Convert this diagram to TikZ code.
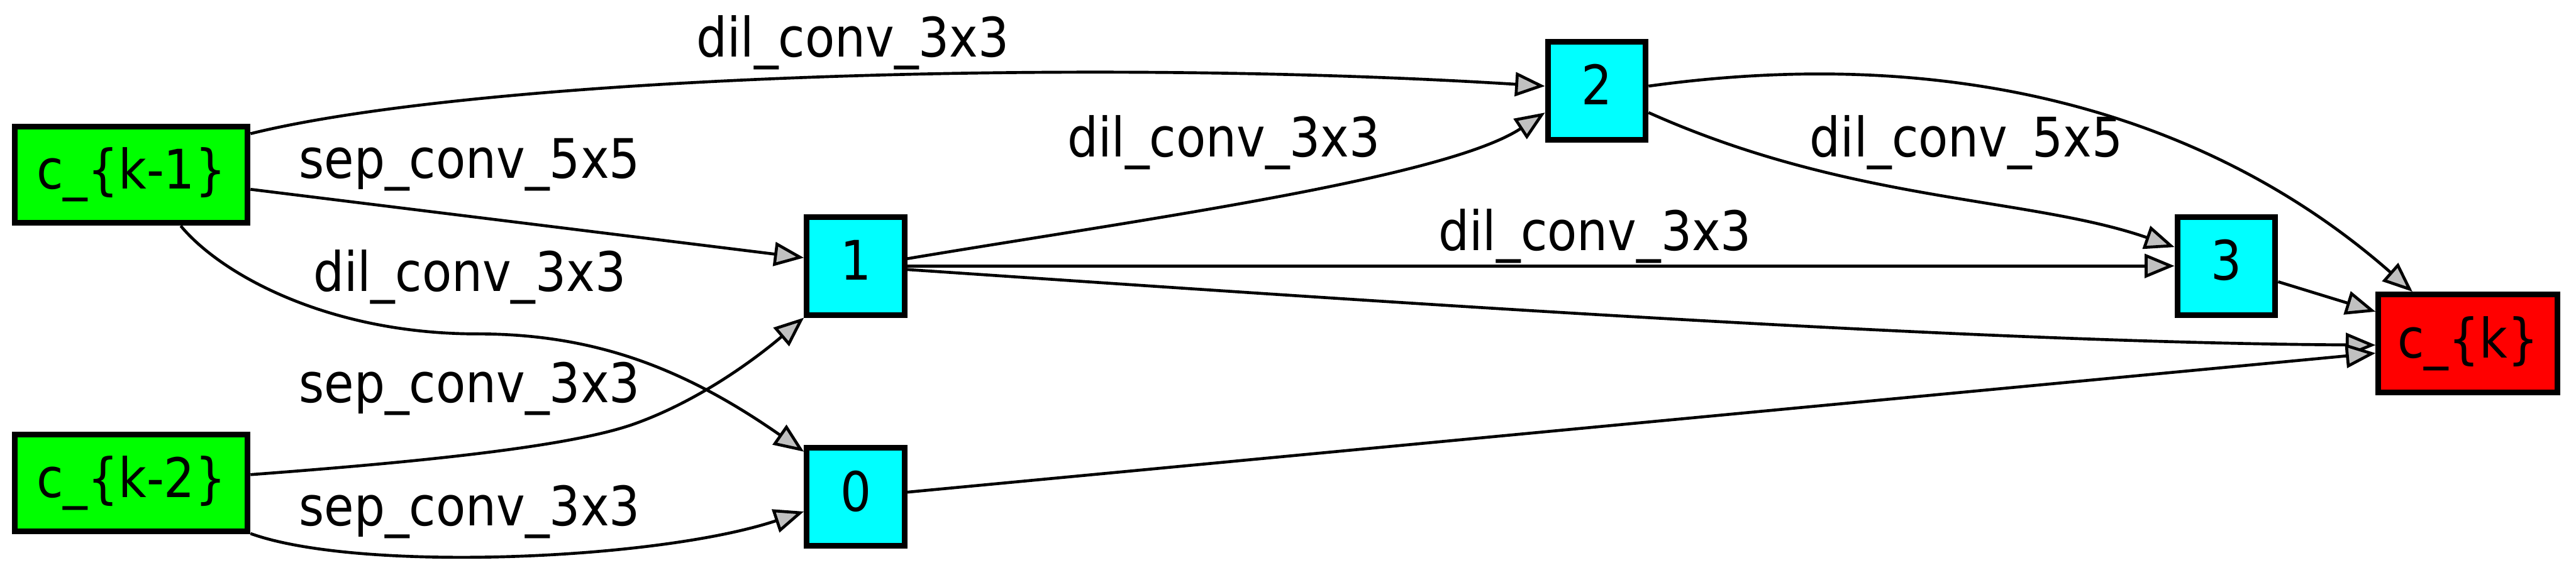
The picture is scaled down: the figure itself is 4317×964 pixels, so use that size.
\documentclass[tikz,border=0pt]{standalone}
\usepackage{fontspec}
\setmainfont{DejaVu Sans}[FakeStretch=0.89]
\usetikzlibrary{arrows.meta}
\definecolor{verdef}{RGB}{0,255,0}
\definecolor{cian}{RGB}{0,255,255}
\definecolor{rojo}{RGB}{255,0,0}
\definecolor{grisp}{RGB}{192,192,192}
\tikzset{
  nodo/.style={draw=black, line width=2.7pt, align=center, inner sep=0pt, text height=19.8pt, text depth=6.2pt, font=\fontsize{26}{30}\selectfont},
  ent/.style={nodo, fill=verdef, minimum width=3.90cm, minimum height=1.62cm},
  interm/.style={nodo, fill=cian, minimum width=1.64cm, minimum height=1.64cm},
  sal/.style={nodo, fill=rojo, minimum width=3.00cm, minimum height=1.64cm},
  fl/.style={-{Triangle[length=5mm, width=4mm, fill=grisp]}, line width=1.4pt, black},
  et/.style={anchor=base, inner sep=0pt, font=\fontsize{26}{30}\selectfont},
}
\begin{document}
\begin{tikzpicture}[x=0.01cm, y=-0.01cm]
  \useasboundingbox (0,0) rectangle (4317,964);
  \node[ent] (km1) at (220,293) {c\_\{k-1\}};
  \node[ent] (km2) at (220,810) {c\_\{k-2\}};
  \node[interm] (n0) at (1434,833) {0};
  \node[interm] (n1) at (1434,446) {1};
  \node[interm] (n2) at (2676,152) {2};
  \node[interm] (n3) at (3731,446) {3};
  \node[sal] (ck) at (4136,576) {c\_\{k\}};
  \draw[fl] (km1.19) .. controls (800,130) and (1800,95) .. (n2.175.5);
  \draw[fl] (km1.-7) -- (n1.171);
  \draw[fl] (km1.-46) .. controls (370,460) and (550,560) .. (800,560) .. controls (1000,560) and (1150,620) .. (n0.139.5);
  \draw[fl] (km2.4) .. controls (700,775) and (950,750) .. (1060,712) .. controls (1180,670) and (1280,590) .. (n1.225);
  \draw[fl] (km2.-23) .. controls (600,960) and (1100,940) .. (n0.196);
  \draw[fl] (n1.8) .. controls (1900,370) and (2420,300) .. (n2.203);
  \draw[fl] (n1.east) -- (n3.west);
  \draw[fl] (n1.-4) .. controls (2300,505) and (3300,575) .. (ck.181);
  \draw[fl] (n0.5.6) -- (ck.186);
  \draw[fl] (n2.5.2) .. controls (3300,70) and (3720,205) .. (ck.137);
  \draw[fl] (n2.-23.4) .. controls (3100,340) and (3400,330) .. (n3.160);
  \draw[fl] (n3.-17.9) -- (ck.161.4);
  \node[et] (et-km1-n2) at (1429,95) {dil\_conv\_3x3};
  \node[et] (et-km1-n1) at (787,299) {sep\_conv\_5x5};
  \node[et] (et-km1-n0) at (787,488) {dil\_conv\_3x3};
  \node[et] (et-km2-n1) at (787,675) {sep\_conv\_3x3};
  \node[et] (et-km2-n0) at (787,882) {sep\_conv\_3x3};
  \node[et] (et-n1-n2) at (2051,263) {dil\_conv\_3x3};
  \node[et] (et-n1-n3) at (2673,420) {dil\_conv\_3x3};
  \node[et] (et-n2-n3) at (3295,263) {dil\_conv\_5x5};
\end{tikzpicture}
\end{document}
